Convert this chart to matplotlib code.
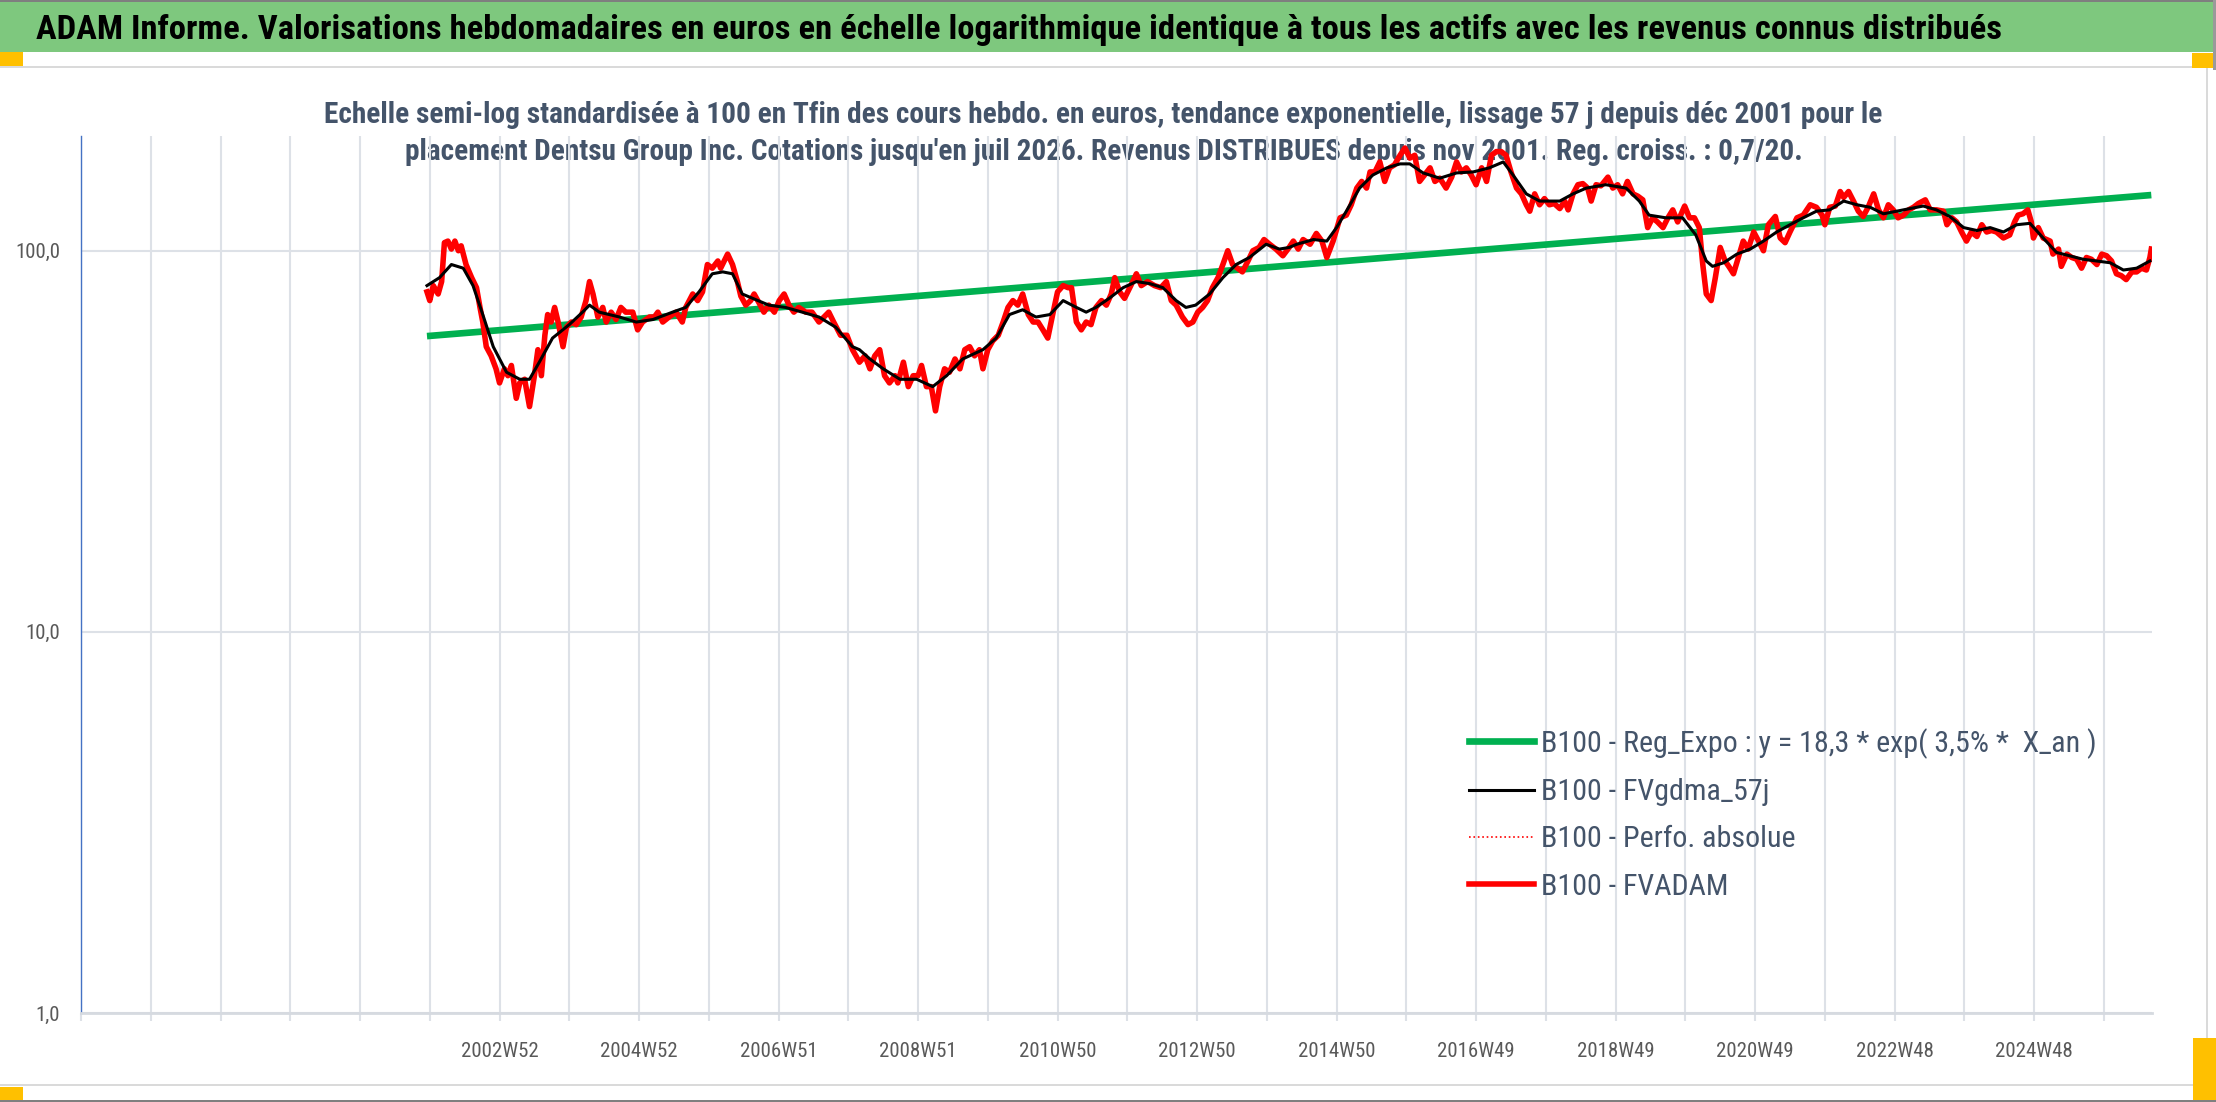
import matplotlib
matplotlib.use('Agg')
import matplotlib.pyplot as plt
from matplotlib import font_manager
from matplotlib.patches import Rectangle
from matplotlib.lines import Line2D
from matplotlib.ticker import FixedLocator, NullLocator

# ---- data (decimal years, base 100) ----
annees_fvadam = [
    2001.96, 2002.00, 2002.05, 2002.12, 2002.17, 2002.21, 2002.26, 2002.31, 2002.36, 2002.41,
    2002.45, 2002.52, 2002.60, 2002.67, 2002.72, 2002.76, 2002.81, 2002.88, 2002.95, 2003.00,
    2003.07, 2003.12, 2003.17, 2003.24, 2003.29, 2003.36, 2003.43, 2003.50, 2003.55, 2003.60,
    2003.65, 2003.69, 2003.74, 2003.79, 2003.84, 2003.91, 2003.96, 2004.03, 2004.10, 2004.17,
    2004.24, 2004.29, 2004.34, 2004.41, 2004.48, 2004.53, 2004.60, 2004.67, 2004.74, 2004.81,
    2004.91, 2004.98, 2005.05, 2005.15, 2005.22, 2005.27, 2005.34, 2005.43, 2005.53, 2005.62,
    2005.67, 2005.77, 2005.84, 2005.91, 2005.98, 2006.05, 2006.13, 2006.17, 2006.27, 2006.34,
    2006.41, 2006.46, 2006.53, 2006.60, 2006.65, 2006.72, 2006.79, 2006.86, 2006.94, 2007.01,
    2007.08, 2007.15, 2007.22, 2007.29, 2007.39, 2007.48, 2007.58, 2007.65, 2007.72, 2007.79,
    2007.89, 2007.98, 2008.06, 2008.16, 2008.24, 2008.31, 2008.38, 2008.45, 2008.52, 2008.59,
    2008.67, 2008.71, 2008.79, 2008.86, 2008.93, 2009.00, 2009.05, 2009.12, 2009.19, 2009.25,
    2009.31, 2009.38, 2009.45, 2009.53, 2009.60, 2009.67, 2009.74, 2009.81, 2009.88, 2009.93,
    2010.00, 2010.07, 2010.15, 2010.22, 2010.29, 2010.36, 2010.43, 2010.50, 2010.58, 2010.65,
    2010.72, 2010.79, 2010.86, 2010.93, 2011.00, 2011.08, 2011.15, 2011.20, 2011.27, 2011.34,
    2011.41, 2011.48, 2011.55, 2011.63, 2011.70, 2011.77, 2011.82, 2011.89, 2011.96, 2012.05,
    2012.13, 2012.20, 2012.29, 2012.39, 2012.48, 2012.56, 2012.63, 2012.70, 2012.79, 2012.87,
    2012.94, 2013.01, 2013.08, 2013.15, 2013.22, 2013.30, 2013.37, 2013.44, 2013.51, 2013.58,
    2013.65, 2013.73, 2013.80, 2013.89, 2013.96, 2014.04, 2014.13, 2014.23, 2014.32, 2014.38,
    2014.45, 2014.52, 2014.62, 2014.71, 2014.79, 2014.86, 2014.95, 2015.05, 2015.14, 2015.21,
    2015.29, 2015.36, 2015.43, 2015.48, 2015.55, 2015.62, 2015.69, 2015.76, 2015.83, 2015.91,
    2015.98, 2016.05, 2016.12, 2016.19, 2016.26, 2016.34, 2016.41, 2016.48, 2016.57, 2016.65,
    2016.72, 2016.79, 2016.86, 2016.93, 2017.00, 2017.08, 2017.15, 2017.22, 2017.29, 2017.36,
    2017.43, 2017.50, 2017.58, 2017.65, 2017.72, 2017.77, 2017.84, 2017.91, 2017.98, 2018.05,
    2018.12, 2018.20, 2018.27, 2018.32, 2018.39, 2018.46, 2018.53, 2018.60, 2018.65, 2018.72,
    2018.79, 2018.89, 2018.96, 2019.03, 2019.10, 2019.17, 2019.25, 2019.32, 2019.39, 2019.46,
    2019.53, 2019.60, 2019.68, 2019.75, 2019.82, 2019.89, 2019.99, 2020.06, 2020.13, 2020.20,
    2020.25, 2020.30, 2020.37, 2020.43, 2020.50, 2020.57, 2020.64, 2020.69, 2020.76, 2020.83,
    2020.90, 2020.98, 2021.05, 2021.12, 2021.19, 2021.29, 2021.36, 2021.43, 2021.50, 2021.60,
    2021.69, 2021.79, 2021.88, 2021.96, 2022.00, 2022.07, 2022.15, 2022.22, 2022.27, 2022.34,
    2022.41, 2022.48, 2022.55, 2022.62, 2022.70, 2022.77, 2022.84, 2022.91, 2022.98, 2023.05,
    2023.13, 2023.20, 2023.27, 2023.34, 2023.44, 2023.51, 2023.60, 2023.70, 2023.75, 2023.82,
    2023.89, 2023.96, 2024.03, 2024.10, 2024.18, 2024.25, 2024.32, 2024.39, 2024.46, 2024.56,
    2024.65, 2024.72, 2024.77, 2024.84, 2024.91, 2024.96, 2024.99, 2025.06, 2025.13, 2025.23,
    2025.27, 2025.35, 2025.39, 2025.47, 2025.54, 2025.61, 2025.68, 2025.75, 2025.82, 2025.90,
    2025.97, 2026.04, 2026.11, 2026.18, 2026.25, 2026.32, 2026.40, 2026.47, 2026.54, 2026.61,
    2026.66, 2026.68,
]
fvadam = [
    78, 74, 81, 77, 83, 105, 106, 101, 106, 100,
    103, 92, 85, 80, 71, 65, 56, 53, 49, 45,
    49, 47, 50, 41, 45, 46, 39, 47, 55, 47,
    60, 68, 65, 71, 65, 56, 63, 65, 64, 67,
    74, 83, 77, 67, 71, 65, 69, 66, 71, 69,
    69, 62, 65, 67, 67, 69, 65, 67, 69, 65,
    71, 77, 74, 78, 92, 90, 94, 90, 98, 92,
    83, 76, 72, 74, 77, 73, 69, 72, 69, 74,
    77, 72, 69, 71, 69, 69, 65, 67, 69, 65,
    60, 60, 55, 51, 53, 49, 53, 55, 47, 45,
    47, 45, 51, 44, 47, 47, 50, 44, 44, 38,
    44, 49, 48, 52, 49, 55, 56, 53, 55, 49,
    55, 58, 60, 65, 71, 74, 72, 77, 68, 65,
    65, 62, 59, 68, 78, 81, 80, 80, 65, 62,
    65, 64, 71, 74, 72, 77, 85, 78, 75, 81,
    87, 81, 83, 81, 80, 83, 74, 72, 67, 64,
    65, 69, 71, 74, 80, 85, 92, 100, 92, 90,
    88, 94, 100, 102, 107, 104, 101, 97, 102, 106,
    101, 107, 104, 111, 106, 96, 106, 122, 124, 132,
    146, 152, 146, 161, 161, 171, 152, 165, 168, 178,
    186, 175, 178, 152, 158, 165, 152, 155, 146, 156,
    171, 161, 165, 158, 149, 165, 152, 178, 182, 182,
    178, 161, 146, 141, 132, 127, 141, 132, 137, 132,
    133, 129, 135, 128, 141, 149, 150, 146, 135, 149,
    148, 156, 146, 149, 141, 152, 141, 139, 136, 115,
    122, 119, 115, 122, 128, 119, 131, 122, 122, 115,
    92, 77, 74, 85, 102, 94, 90, 87, 96, 106,
    101, 112, 106, 100, 117, 123, 108, 105, 112, 122,
    124, 132, 130, 124, 117, 130, 131, 143, 138, 143,
    135, 127, 123, 130, 141, 128, 122, 132, 128, 122,
    124, 128, 130, 133, 136, 128, 128, 127, 117, 122,
    119, 112, 106, 112, 109, 117, 112, 113, 112, 108,
    110, 119, 124, 125, 128, 119, 108, 115, 108, 106,
    98, 101, 91, 98, 96, 95, 90, 96, 95, 92,
    98, 97, 94, 87, 86, 84, 88, 88, 90, 89,
    96, 101,
]
# "Perfo. absolue" is identical to FVADAM on this chart (hidden below it)
perfo_absolue = fvadam

annees_gdma = [
    2001.96, 2002.14, 2002.31, 2002.48, 2002.62, 2002.76, 2002.91, 2003.10, 2003.29, 2003.43,
    2003.57, 2003.76, 2004.00, 2004.19, 2004.29, 2004.43, 2004.72, 2004.96, 2005.20, 2005.48,
    2005.67, 2005.86, 2006.05, 2006.20, 2006.34, 2006.48, 2006.63, 2006.86, 2007.10, 2007.34,
    2007.58, 2007.82, 2008.06, 2008.16, 2008.31, 2008.50, 2008.74, 2008.98, 2009.21, 2009.41,
    2009.64, 2009.93, 2010.12, 2010.31, 2010.50, 2010.69, 2010.89, 2011.08, 2011.27, 2011.41,
    2011.55, 2011.74, 2011.94, 2012.13, 2012.32, 2012.51, 2012.70, 2012.84, 2012.98, 2013.18,
    2013.37, 2013.56, 2013.75, 2013.99, 2014.18, 2014.32, 2014.43, 2014.67, 2014.86, 2015.00,
    2015.14, 2015.33, 2015.52, 2015.72, 2015.91, 2016.05, 2016.24, 2016.48, 2016.72, 2016.96,
    2017.19, 2017.39, 2017.53, 2017.72, 2017.91, 2018.20, 2018.39, 2018.58, 2018.86, 2019.15,
    2019.34, 2019.48, 2019.72, 2019.96, 2020.15, 2020.30, 2020.39, 2020.55, 2020.74, 2020.93,
    2021.12, 2021.31, 2021.50, 2021.69, 2021.88, 2022.07, 2022.27, 2022.46, 2022.65, 2022.84,
    2023.03, 2023.22, 2023.41, 2023.60, 2023.79, 2023.99, 2024.18, 2024.37, 2024.56, 2024.75,
    2024.94, 2025.13, 2025.32, 2025.51, 2025.70, 2025.90, 2026.09, 2026.28, 2026.47, 2026.66,
]
fvgdma_57j = [
    81, 85, 92, 90, 81, 68, 56, 48, 46, 46,
    51, 59, 64, 69, 72, 69, 67, 65, 66, 69,
    71, 78, 87, 88, 87, 77, 75, 72, 71, 69,
    67, 63, 56, 55, 52, 49, 46, 46, 44, 47,
    52, 55, 59, 68, 70, 67, 68, 74, 71, 69,
    71, 75, 80, 83, 82, 80, 74, 71, 72, 77,
    85, 92, 96, 104, 101, 102, 104, 107, 106, 115,
    127, 146, 158, 165, 169, 169, 160, 155, 160, 161,
    165, 171, 158, 141, 135, 135, 141, 146, 149, 146,
    135, 124, 122, 122, 110, 94, 91, 93, 98, 101,
    106, 112, 117, 122, 127, 128, 135, 132, 130, 125,
    127, 129, 131, 128, 123, 115, 113, 115, 112, 117,
    118, 108, 99, 97, 95, 94, 93, 89, 90, 94,
]

# exponential regression y = 18,3 * exp(3,5% * X_an), end points
annees_reg = [2001.96, 2026.68]
reg_expo = [59.7, 140.0]

# axis categories
annees_grille = list(range(1997, 2027))
annees_labels = [2003, 2005, 2007, 2009, 2011, 2013, 2015, 2017, 2019, 2021, 2023, 2025]
semaines_labels = ["2002W52", "2004W52", "2006W51", "2008W51", "2010W50", "2012W50",
                   "2014W50", "2016W49", "2018W49", "2020W49", "2022W48", "2024W48"]
y_ticks = [1, 10, 100]
y_labels = ["1,0", "10,0", "100,0"]

titre = ("ADAM Informe. Valorisations hebdomadaires en euros en échelle logarithmique "
         "identique à tous les actifs avec les revenus connus distribués")
sous_titre_1 = ("Echelle semi-log standardisée à 100 en Tfin des cours hebdo. en euros, tendance "
                "exponentielle, lissage 57 j depuis déc 2001 pour le")
sous_titre_2 = ("placement Dentsu Group Inc. Cotations jusqu'en juil 2026. Revenus DISTRIBUES "
                "depuis nov 2001. Reg. croiss. : 0,7/20.")
legendes = ["B100 - Reg_Expo : y = 18,3 * exp( 3,5% *  X_an )", "B100 - FVgdma_57j",
            "B100 - Perfo. absolue", "B100 - FVADAM"]


def pick_font(candidates):
    for name in candidates:
        try:
            font_manager.findfont(name, fallback_to_default=False)
            return name
        except ValueError:
            pass
    return 'DejaVu Sans'


FONT = pick_font(['Liberation Sans Narrow', 'Roboto Condensed', 'Open Sans Condensed', 'Roboto'])
plt.rcParams['font.family'] = [FONT, 'DejaVu Sans']

W, H = 2216, 1102
fig = plt.figure(figsize=(W / 100, H / 100), dpi=100, facecolor='white')


def fx(px):
    return px / W


def fy(py):
    return 1 - py / H


def fit_width(txt, target_px):
    r = fig.canvas.get_renderer()
    w = txt.get_window_extent(r).width
    txt.set_fontsize(txt.get_fontsize() * target_px / w)


def rect(x0, y0, x1, y1, color, z=-5):
    fig.patches.append(Rectangle((fx(x0), fy(y1)), fx(x1) - fx(x0), fy(y0) - fy(y1),
                                 transform=fig.transFigure, facecolor=color,
                                 edgecolor='none', zorder=z))


# frame / banner decorations
rect(0, 0, W, 2, '#7F7F7F')
rect(0, 2, 2213, 52, '#7EC87E')
rect(2213, 0, W, 70, '#9A9A9A')
rect(0, 66, 2208, 68, '#DADADA')
rect(2206, 66, 2208, 1086, '#DADADA')
rect(0, 1084, 2208, 1086, '#DADADA')
rect(0, 1100, W, H, '#7F7F7F')
rect(0, 52, 23, 66, '#FFC000', z=-4)
rect(2192, 53, 2213, 68, '#FFC000', z=-4)
rect(0, 1087, 23, 1100, '#FFC000', z=-4)
rect(2193, 1038, W, 1100, '#FFC000', z=-4)

t = fig.text(fx(36), fy(39), titre, color='black', fontsize=20, fontweight='bold',
             ha='left', va='baseline')
fit_width(t, 1952)

s1 = fig.text(fx(1103), fy(123), sous_titre_1, color='#44546A', fontsize=18,
              fontweight='bold', ha='center', va='baseline', zorder=-1)
fit_width(s1, 1557)
s2 = fig.text(fx(1104), fy(160), sous_titre_2, color='#44546A', fontsize=18,
              fontweight='bold', ha='center', va='baseline', zorder=-1)
fit_width(s2, 1395)

# plot area
ax = fig.add_axes([fx(81), fy(1013), fx(2152) - fx(81), fy(136) - fy(1013)])
ax.set_facecolor('none')
ax.set_yscale('log')
ax.set_ylim(1, 200)
ax.set_xlim(1997.0, 2026.69)

grid_c = '#DDE1E7'
ax.plot(annees_reg, reg_expo, color='#00B050', lw=4.8, solid_capstyle='butt', zorder=2)
ax.plot(annees_fvadam, perfo_absolue, color='#FF0000', lw=1.2, ls=':', zorder=3)
ax.plot(annees_fvadam, fvadam, color='#FF0000', lw=4.0, solid_joinstyle='round', zorder=4)
ax.plot(annees_gdma, fvgdma_57j, color='black', lw=2.2, zorder=5)

ax.xaxis.set_major_locator(FixedLocator(annees_grille))
lab_map = dict(zip(annees_labels, semaines_labels))
ax.set_xticklabels([lab_map.get(a, '') for a in annees_grille])
ax.yaxis.set_major_locator(FixedLocator(y_ticks))
ax.yaxis.set_minor_locator(NullLocator())
ax.set_yticklabels(y_labels)

ax.grid(True, which='major', axis='both', color=grid_c, lw=1.5, zorder=0)
ax.set_axisbelow(True)
ax.tick_params(axis='x', length=6, width=1.5, color=grid_c, pad=15,
               labelsize=15, labelcolor='#595959')
ax.tick_params(axis='y', length=0, pad=15, labelsize=15, labelcolor='#595959')
for side in ['top', 'right']:
    ax.spines[side].set_visible(False)
ax.spines['left'].set_color('#4472C4')
ax.spines['left'].set_linewidth(1.0)
ax.spines['bottom'].set_color('#D6DAE0')
ax.spines['bottom'].set_linewidth(2.0)

# legend
handles = [Line2D([], [], color='#00B050', lw=4.8),
           Line2D([], [], color='black', lw=2.2),
           Line2D([], [], color='#FF0000', lw=1.2, ls=':'),
           Line2D([], [], color='#FF0000', lw=4.0)]


def make_legend(fs, spacing, hlen):
    return ax.legend(handles, legendes, loc='upper left', fontsize=fs,
                     bbox_to_anchor=(fx(1469), fy(728)), bbox_transform=fig.transFigure,
                     frameon=False, borderpad=0, borderaxespad=0, handlelength=hlen,
                     handletextpad=0.25, labelspacing=spacing, labelcolor='#44546A')


leg = make_legend(18, 0.5, 2.0)
r = fig.canvas.get_renderer()
wmax = max(tx.get_window_extent(r).width for tx in leg.get_texts())
fs = 18 * 555 / wmax
fs_px = fs * 100 / 72
leg.remove()
leg = make_legend(fs, 0.5, 65 / fs_px)
h = leg.get_texts()[0].get_window_extent(r).height
leg.remove()
leg = make_legend(fs, max(0.05, (50 - h) / fs_px), 65 / fs_px)

fig.savefig('out.png', dpi=100, facecolor='white')
